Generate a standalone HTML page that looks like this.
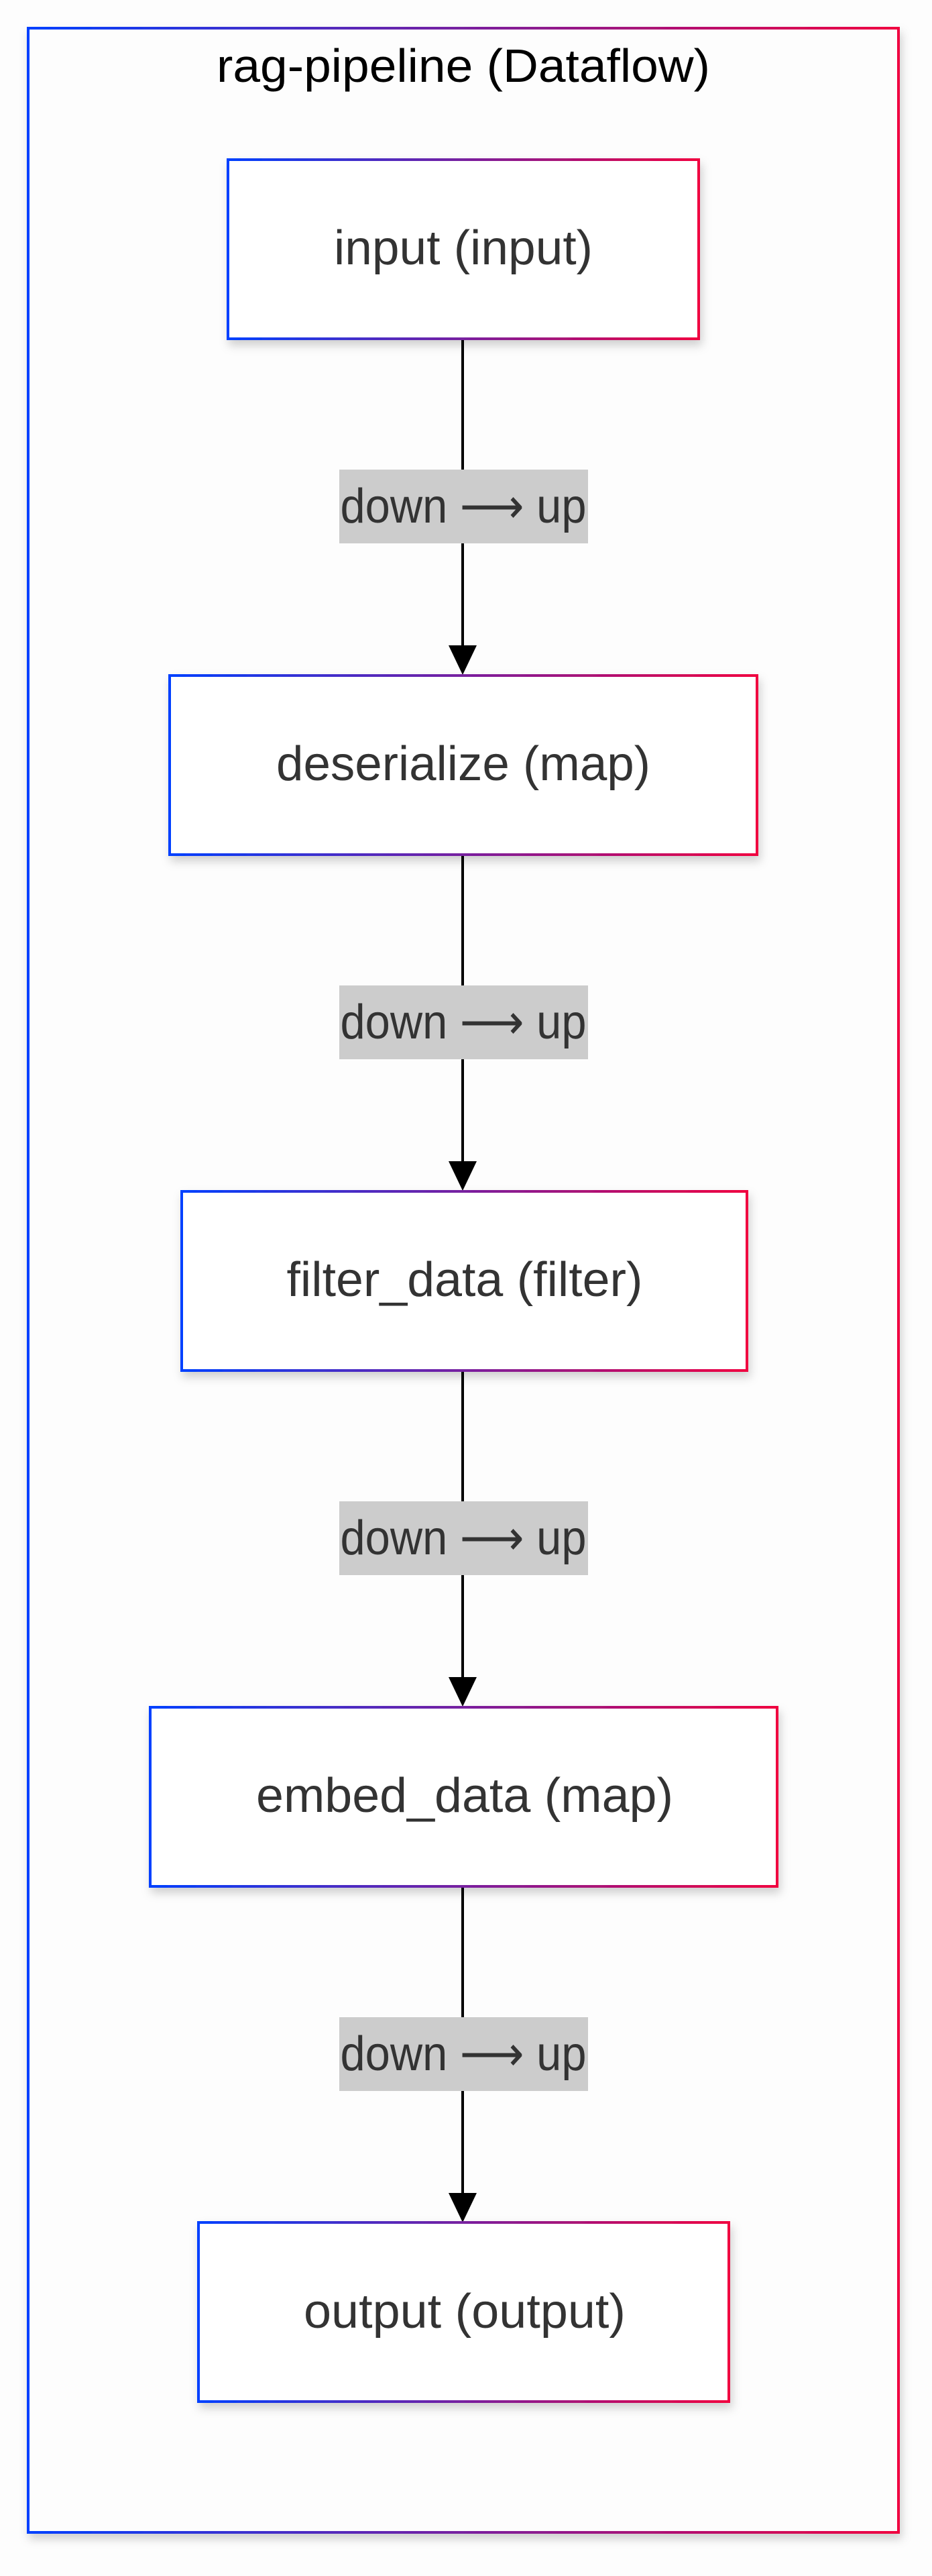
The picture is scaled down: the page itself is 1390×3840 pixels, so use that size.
<!DOCTYPE html>
<html><head><meta charset="utf-8"><style>
html,body{margin:0;padding:0;background:#fff;}
svg{display:block;}
text{font-family:"Liberation Sans",Arial,sans-serif;}
</style></head><body>
<svg width="1390" height="3840" viewBox="0 0 1390 3840" xmlns="http://www.w3.org/2000/svg">
<defs>
<linearGradient id="g" x1="0" y1="0" x2="1" y2="0">
<stop offset="0" stop-color="#0040ff"/><stop offset="1" stop-color="#f00040"/>
</linearGradient>
<filter id="sh" x="-10%" y="-10%" width="120%" height="130%">
<feDropShadow dx="3" dy="8" stdDeviation="7" flood-color="#000" flood-opacity="0.18"/>
</filter>
</defs>
<rect width="1390" height="3840" fill="#fdfdfd"/>
<rect x="42" y="42" width="1298" height="3733" fill="#fdfdfd" stroke="url(#g)" stroke-width="4" filter="url(#sh)"/>
<text x="691" y="122" font-size="70" text-anchor="middle" fill="#000" textLength="736" lengthAdjust="spacingAndGlyphs">rag-pipeline (Dataflow)</text>

<g stroke="#000" stroke-width="4">
<line x1="690" y1="505" x2="690" y2="970"/>
<line x1="690" y1="1274" x2="690" y2="1739"/>
<line x1="690" y1="2043" x2="690" y2="2508"/>
<line x1="690" y1="2812" x2="690" y2="3277"/>
</g>
<g fill="#000">
<polygon points="669,962 711,962 690,1006"/>
<polygon points="669,1731 711,1731 690,1775"/>
<polygon points="669,2500 711,2500 690,2544"/>
<polygon points="669,3269 711,3269 690,3313"/>
</g>
<g fill="#cccccc">
<rect x="506" y="700" width="371" height="110"/>
<rect x="506" y="1469" width="371" height="110"/>
<rect x="506" y="2238" width="371" height="110"/>
<rect x="506" y="3007" width="371" height="110"/>
</g>
<g fill="#333" font-size="72" text-anchor="middle">
<text x="691" y="779" textLength="367" lengthAdjust="spacingAndGlyphs">down ⟶ up</text>
<text x="691" y="1548" textLength="367" lengthAdjust="spacingAndGlyphs">down ⟶ up</text>
<text x="691" y="2317" textLength="367" lengthAdjust="spacingAndGlyphs">down ⟶ up</text>
<text x="691" y="3086" textLength="367" lengthAdjust="spacingAndGlyphs">down ⟶ up</text>
</g>

<g fill="#fff" stroke="url(#g)" stroke-width="4" filter="url(#sh)">
<rect x="340" y="238" width="702" height="267"/>
<rect x="253" y="1007" width="876" height="267"/>
<rect x="271" y="1776" width="843" height="267"/>
<rect x="224" y="2545" width="935" height="267"/>
<rect x="296" y="3313" width="791" height="267"/>
</g>
<g fill="#333" font-size="72" text-anchor="middle">
<text x="691" y="394" textLength="386" lengthAdjust="spacingAndGlyphs">input (input)</text>
<text x="691" y="1163" textLength="558" lengthAdjust="spacingAndGlyphs">deserialize (map)</text>
<text x="693" y="1932" textLength="531" lengthAdjust="spacingAndGlyphs">filter_data (filter)</text>
<text x="693" y="2701" textLength="622" lengthAdjust="spacingAndGlyphs">embed_data (map)</text>
<text x="693" y="3470" textLength="480" lengthAdjust="spacingAndGlyphs">output (output)</text>
</g>
</svg>
</body></html>
